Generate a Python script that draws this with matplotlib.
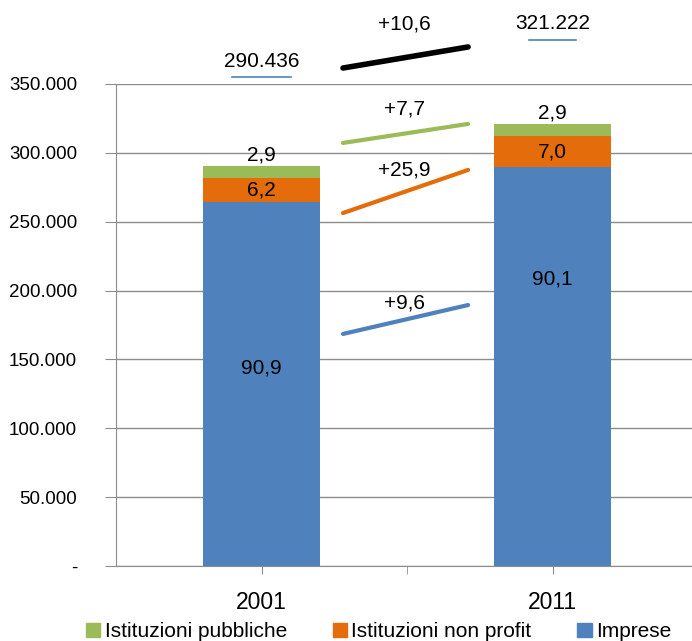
import numpy as np
import matplotlib.pyplot as plt
from matplotlib.patches import Patch

plt.rcParams['font.family'] = ['Liberation Sans', 'DejaVu Sans']

years = ['2001', '2011']
imprese = [264006, 289421]
non_profit = [18007, 22486]
pubbliche = [8423, 9315]
totals = ['290.436', '321.222']
pct_imprese = ['90,9', '90,1']
pct_non_profit = ['6,2', '7,0']
pct_pubbliche = ['2,9', '2,9']
growth = ['+10,6', '+7,7', '+25,9', '+9,6']  # totale, pubbliche, non profit, imprese

c_green = '#9BBB59'
c_orange = '#E46C0A'
c_blue = '#4F81BD'

fig = plt.figure(figsize=(6.92, 6.41), dpi=100)
ax = fig.add_axes([116 / 692, 75 / 641, 582 / 692, 482 / 641])

x = np.arange(len(years))
w = 0.4
imp = np.array(imprese)
npf = np.array(non_profit)
pub = np.array(pubbliche)
ax.bar(x, imp, w, color=c_blue, zorder=3)
ax.bar(x, npf, w, bottom=imp, color=c_orange, zorder=3)
ax.bar(x, pub, w, bottom=imp + npf, color=c_green, zorder=3)

ax.set_xlim(-0.5, 1.5)
ax.set_ylim(0, 350000)
yt = np.arange(0, 350001, 50000)
ax.set_yticks(yt)
ax.set_yticklabels(['-'] + [f'{v:,.0f}'.replace(',', '.') for v in yt[1:]], fontsize=13.5)
ax.grid(axis='y', color='#8c8c8c', lw=1, zorder=0)
ax.set_xticks(x)
ax.set_xticklabels(years, fontsize=16.5)
ax.set_xticks([0.5], minor=True)
ax.tick_params(axis='x', which='both', length=6, color='#8c8c8c', pad=12)
ax.tick_params(axis='y', length=8, color='#8c8c8c', pad=20)
for s in ['top', 'right']:
    ax.spines[s].set_visible(False)
for s in ['left', 'bottom']:
    ax.spines[s].set_color('#8c8c8c')

# percentage labels
tot = imp + npf + pub
for i in range(len(years)):
    ax.text(x[i], imp[i] * 0.545 if i == 0 else imp[i] * 0.72, pct_imprese[i],
            ha='center', va='center', fontsize=15)
    ax.text(x[i], imp[i] + npf[i] / 2, pct_non_profit[i], ha='center', va='center', fontsize=15)
    ax.text(x[i], tot[i] + 8000, pct_pubbliche[i], ha='center', va='center', fontsize=15)

# totals above plot
ax.text(x[0], 366000, totals[0], ha='center', va='center', fontsize=15, clip_on=False)
ax.plot([x[0] - 0.1, x[0] + 0.1], [355000, 355000], color=c_blue, lw=1.2, clip_on=False)
ax.text(x[1], 393600, totals[1], ha='center', va='center', fontsize=15, clip_on=False)
ax.plot([x[1] - 0.08, x[1] + 0.08], [382000, 382000], color=c_blue, lw=1.2, clip_on=False)

# growth lines between bars
trend = [
    ('black', 4, (361600, 376900), 393600),
    (c_green, 3, (307200, 321000), 331800),
    (c_orange, 3, (256300, 287600), 287500),
    (c_blue, 3, (168500, 189500), 191000),
]
for (col, lw, (y0, y1), ty), g in zip(trend, growth):
    ax.plot([0.28, 0.71], [y0, y1], color=col, lw=lw, solid_capstyle='round', clip_on=False, zorder=4)
    ax.text(0.49, ty, g, ha='center', va='center', fontsize=15, clip_on=False)

handles = [Patch(color=c_green, label='Istituzioni pubbliche'),
           Patch(color=c_orange, label='Istituzioni non profit'),
           Patch(color=c_blue, label='Imprese')]
fig.legend(handles=handles, loc='lower center', ncol=3, frameon=False,
           bbox_to_anchor=(0.547, -0.03), prop={'size': 15},
           handlelength=0.7, handleheight=0.7, handletextpad=0.2, columnspacing=2.2)

fig.savefig('out.png', dpi=100)
